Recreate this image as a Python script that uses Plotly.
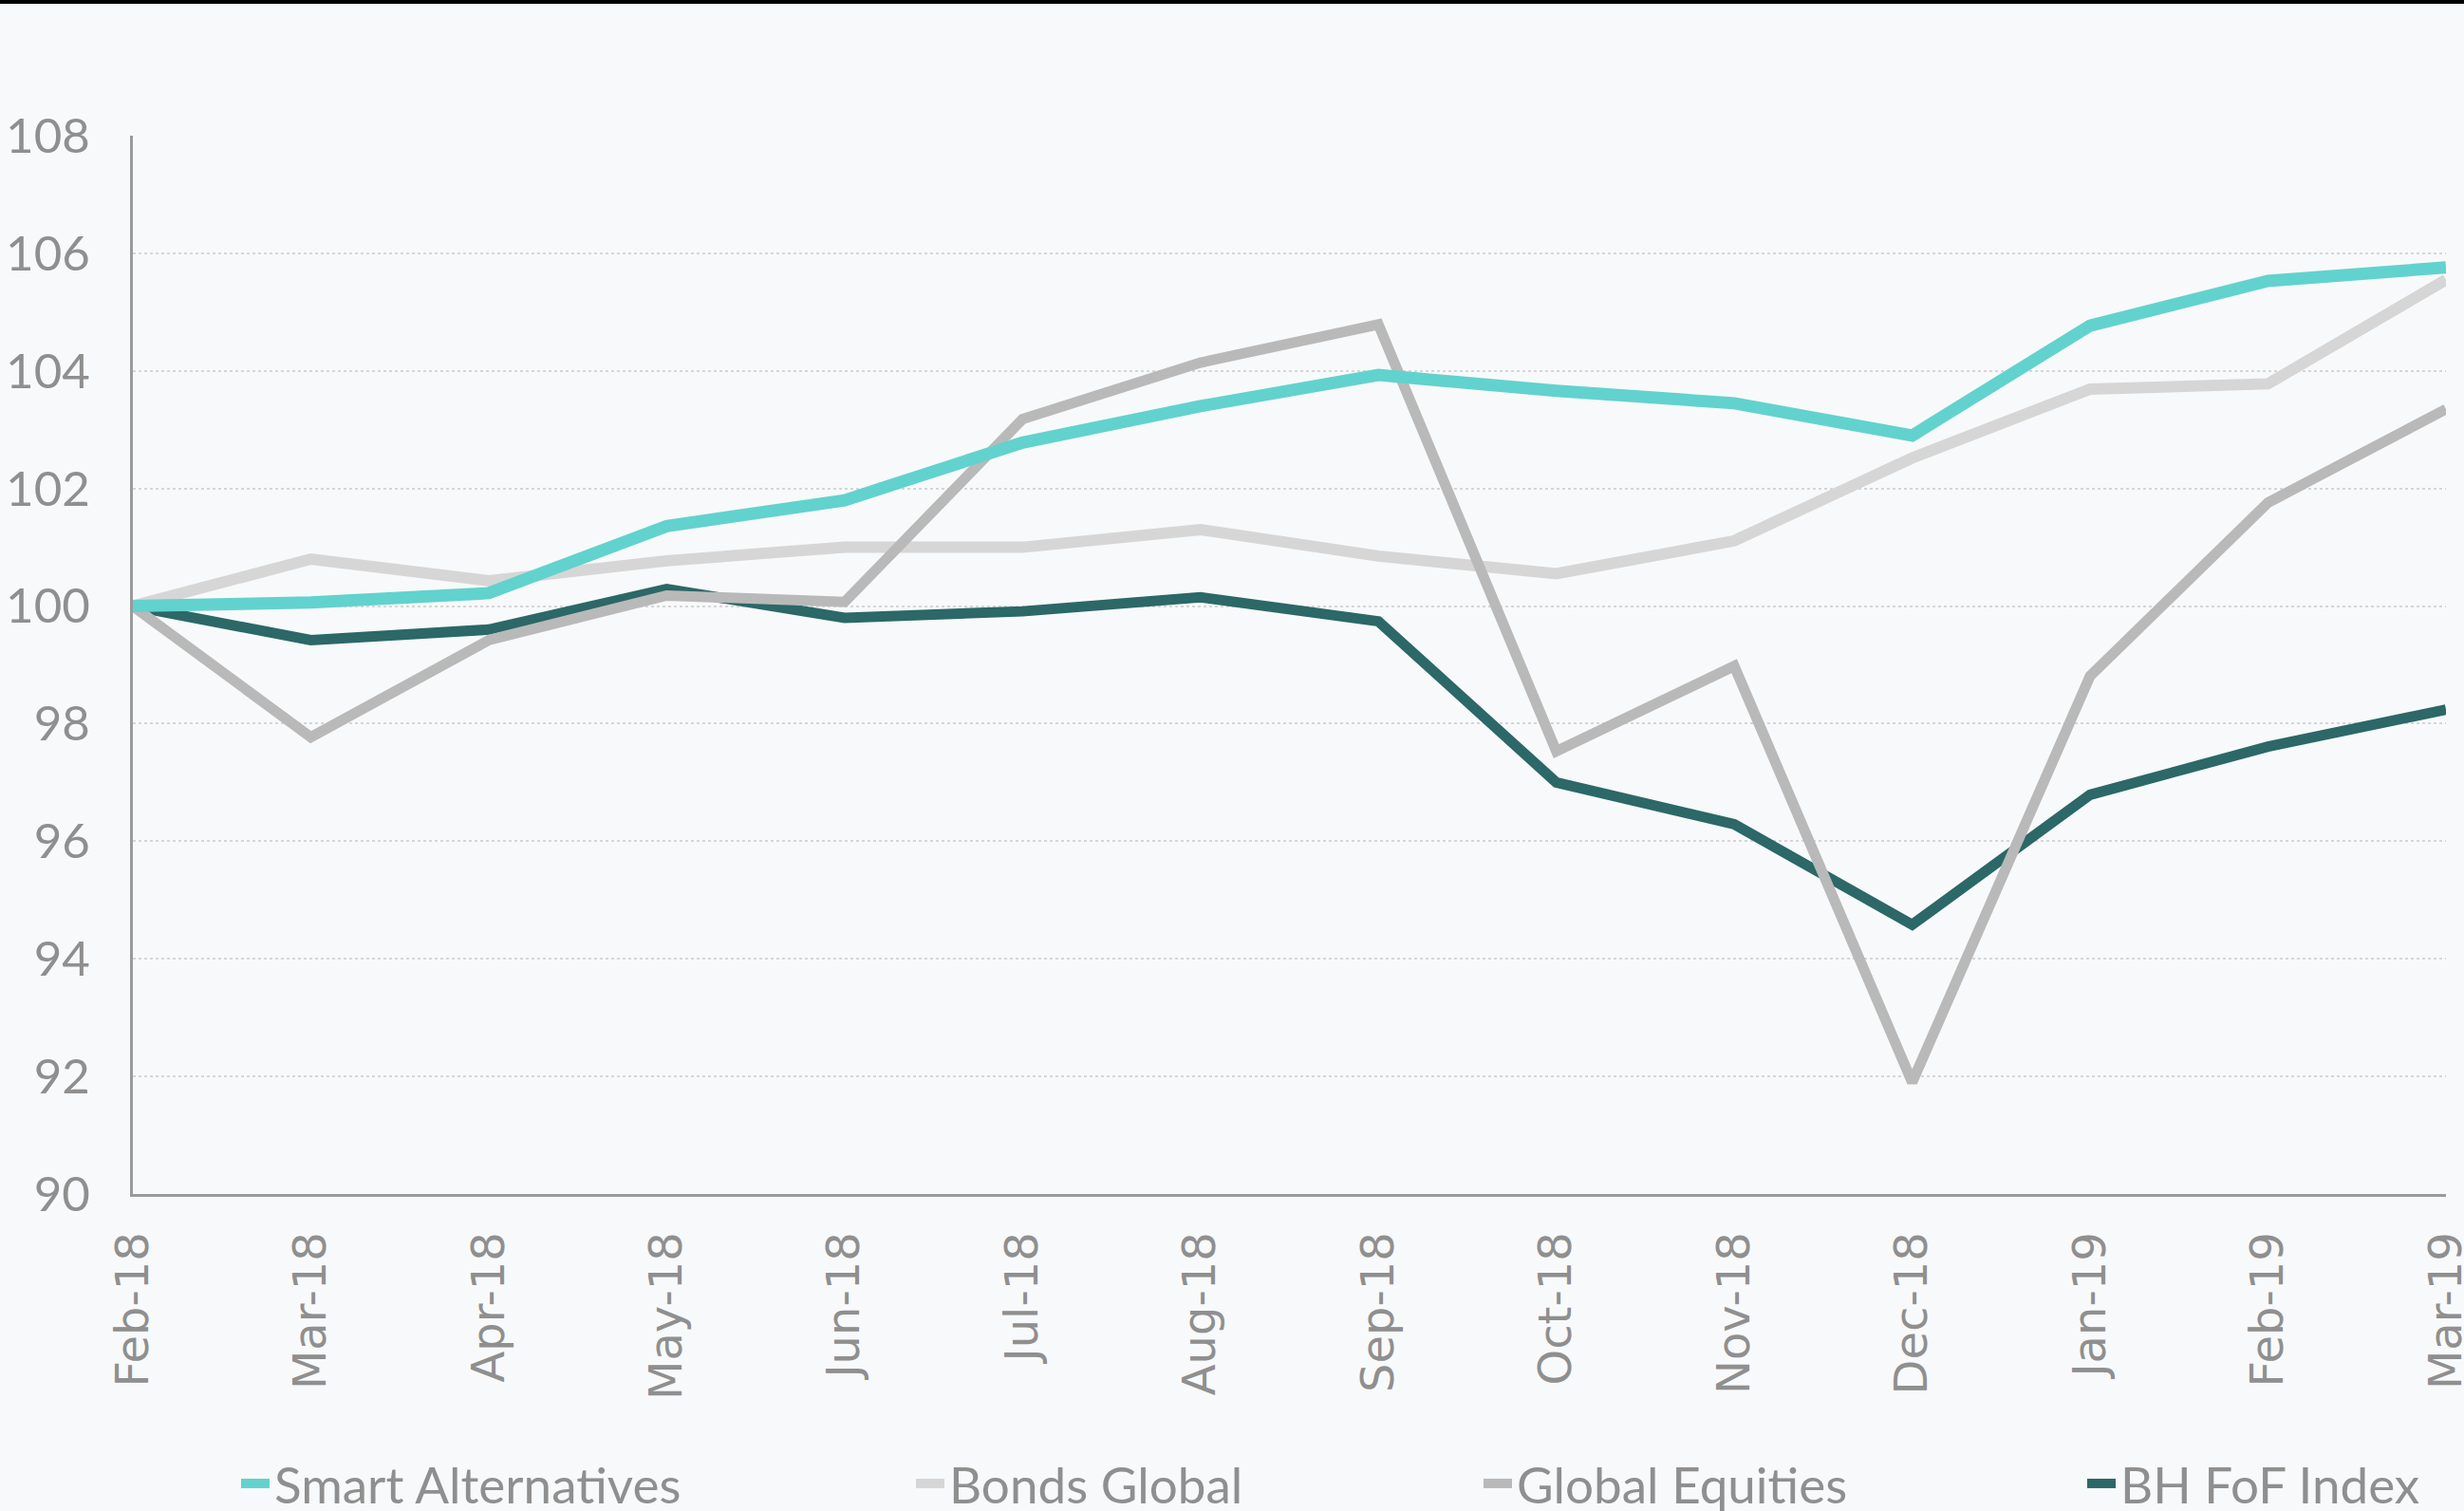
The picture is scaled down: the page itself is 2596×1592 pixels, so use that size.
import plotly.graph_objects as go

months = ["Feb-18", "Mar-18", "Apr-18", "May-18", "Jun-18", "Jul-18", "Aug-18",
          "Sep-18", "Oct-18", "Nov-18", "Dec-18", "Jan-19", "Feb-19", "Mar-19"]

smart_alternatives = [100.0, 100.06, 100.22, 101.36, 101.8, 102.78, 103.4,
                      103.93, 103.66, 103.45, 102.9, 104.77, 105.53, 105.76]
bonds_global = [100.0, 100.8, 100.43, 100.77, 101.0, 101.0, 101.3,
                100.85, 100.55, 101.11, 102.52, 103.69, 103.78, 105.55]
global_equities = [100.0, 97.77, 99.42, 100.18, 100.07, 103.18, 104.14,
                   104.79, 97.53, 98.98, 91.9, 98.81, 101.76, 103.35]
bh_fof_index = [100.0, 99.42, 99.6, 100.29, 99.8, 99.91, 100.15,
                99.74, 97.0, 96.29, 94.58, 96.79, 97.61, 98.24]

y_ticks = [90, 92, 94, 96, 98, 100, 102, 104, 106, 108]

series = [
    ("Smart Alternatives", smart_alternatives, "#62d2ce", 13, "legend"),
    ("Bonds Global", bonds_global, "#d6d6d6", 12, "legend2"),
    ("Global Equities", global_equities, "#b9b9b9", 11, "legend3"),
    ("BH FoF Index", bh_fof_index, "#2b6867", 11, "legend4"),
]

fig = go.Figure()
# draw order: bonds, BH, equities, smart alternatives on top
order = [1, 3, 2, 0]
for i in order:
    name, vals, color, w, lg = series[i]
    fig.add_trace(go.Scatter(
        x=months, y=vals, name=name, mode="lines",
        line=dict(color=color, width=w), legend=lg,
    ))

W, H = 2596, 1592
ml, mr, mt, mb = 140, 19, 143, 334
pw = W - ml - mr
ph = H - mt - mb

def px_x(p):
    return (p - ml) / pw

def px_y(p):
    return (H - mb - p) / ph

leg_font = dict(family="Lato", size=53, color="#8f8f8f")
leg_common = dict(orientation="h", yanchor="middle", xanchor="left",
                  bgcolor="rgba(0,0,0,0)", font=leg_font)
ly = px_y(1563)

fig.update_layout(
    width=W, height=H,
    margin=dict(l=ml, r=mr, t=mt, b=mb, autoexpand=False),
    paper_bgcolor="#f8f9fa",
    plot_bgcolor="#f8f9fa",
    showlegend=True,
    legend=dict(x=px_x(249), y=ly, **leg_common),
    legend2=dict(x=px_x(960), y=ly, **leg_common),
    legend3=dict(x=px_x(1558), y=ly, **leg_common),
    legend4=dict(x=px_x(2194), y=ly, **leg_common),
    xaxis=dict(
        type="category",
        range=[0, len(months) - 1],
        showgrid=False, automargin=False,
        showline=True, linecolor="#9a9a9a", linewidth=3,
        tickangle=-90,
        ticks="", ticklabelstandoff=18,
        tickfont=dict(family="DejaVu Sans", size=48, color="#8f8f8f"),
        zeroline=False,
    ),
    yaxis=dict(
        range=[90, 108], automargin=False,
        tickvals=y_ticks,
        ticktext=[str(v) for v in y_ticks],
        showgrid=True, gridcolor="#d6d6d6", griddash="dot", gridwidth=2,
        showline=True, linecolor="#9a9a9a", linewidth=3,
        ticks="", ticklabelstandoff=32,
        tickfont=dict(family="Lato", size=51, color="#8f8f8f"),
        zeroline=False,
    ),
    shapes=[dict(type="rect", xref="paper", yref="paper",
                 x0=-0.1, x1=1.1, y0=px_y(4), y1=px_y(-2),
                 fillcolor="#000000", line=dict(width=0), layer="above")],
)

fig.write_html(
    "out.html",
    config={"displayModeBar": False},
    post_script="document.body.style.margin='0';document.body.style.background='#f8f9fa';",
)
